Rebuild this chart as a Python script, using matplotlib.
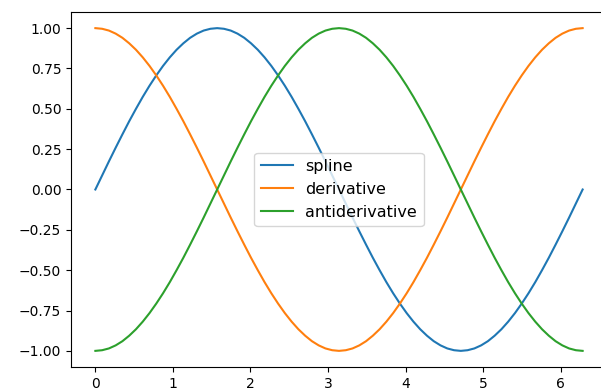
import matplotlib
matplotlib.use('Agg')
import matplotlib.pyplot as plt
import numpy as np

# values, 73 samples across [0, 2*pi]
spline = [0.000, 0.087, 0.174, 0.259, 0.342, 0.423, 0.500, 0.574, 0.643, 0.707,
          0.766, 0.819, 0.866, 0.906, 0.940, 0.966, 0.985, 0.996, 1.000,
          0.996, 0.985, 0.966, 0.940, 0.906, 0.866, 0.819, 0.766, 0.707,
          0.643, 0.574, 0.500, 0.423, 0.342, 0.259, 0.174, 0.087, 0.000,
          -0.087, -0.174, -0.259, -0.342, -0.423, -0.500, -0.574, -0.643, -0.707,
          -0.766, -0.819, -0.866, -0.906, -0.940, -0.966, -0.985, -0.996, -1.000,
          -0.996, -0.985, -0.966, -0.940, -0.906, -0.866, -0.819, -0.766, -0.707,
          -0.643, -0.574, -0.500, -0.423, -0.342, -0.259, -0.174, -0.087, 0.000]
derivative = [1.000, 0.996, 0.985, 0.966, 0.940, 0.906, 0.866, 0.819, 0.766, 0.707,
              0.643, 0.574, 0.500, 0.423, 0.342, 0.259, 0.174, 0.087, 0.000,
              -0.087, -0.174, -0.259, -0.342, -0.423, -0.500, -0.574, -0.643, -0.707,
              -0.766, -0.819, -0.866, -0.906, -0.940, -0.966, -0.985, -0.996, -1.000,
              -0.996, -0.985, -0.966, -0.940, -0.906, -0.866, -0.819, -0.766, -0.707,
              -0.643, -0.574, -0.500, -0.423, -0.342, -0.259, -0.174, -0.087, 0.000,
              0.087, 0.174, 0.259, 0.342, 0.423, 0.500, 0.574, 0.643, 0.707,
              0.766, 0.819, 0.866, 0.906, 0.940, 0.966, 0.985, 0.996, 1.000]
antiderivative = [-1.000, -0.996, -0.985, -0.966, -0.940, -0.906, -0.866, -0.819, -0.766, -0.707,
                  -0.643, -0.574, -0.500, -0.423, -0.342, -0.259, -0.174, -0.087, 0.000,
                  0.087, 0.174, 0.259, 0.342, 0.423, 0.500, 0.574, 0.643, 0.707,
                  0.766, 0.819, 0.866, 0.906, 0.940, 0.966, 0.985, 0.996, 1.000,
                  0.996, 0.985, 0.966, 0.940, 0.906, 0.866, 0.819, 0.766, 0.707,
                  0.643, 0.574, 0.500, 0.423, 0.342, 0.259, 0.174, 0.087, 0.000,
                  -0.087, -0.174, -0.259, -0.342, -0.423, -0.500, -0.574, -0.643, -0.707,
                  -0.766, -0.819, -0.866, -0.906, -0.940, -0.966, -0.985, -0.996, -1.000]
labels = ['spline', 'derivative', 'antiderivative']

x = np.linspace(0, 2 * np.pi, len(spline))

fig = plt.figure(figsize=(6.01, 3.92), dpi=100)
# right spine sits just past the image edge in the reference
ax = fig.add_axes([71 / 601, 25 / 392, 536 / 601, 355 / 392])

ax.plot(x, spline, label=labels[0])
ax.plot(x, derivative, label=labels[1])
ax.plot(x, antiderivative, label=labels[2])
ax.legend(loc='center', fontsize=11.5)

fig.savefig('out.png', dpi=100)
